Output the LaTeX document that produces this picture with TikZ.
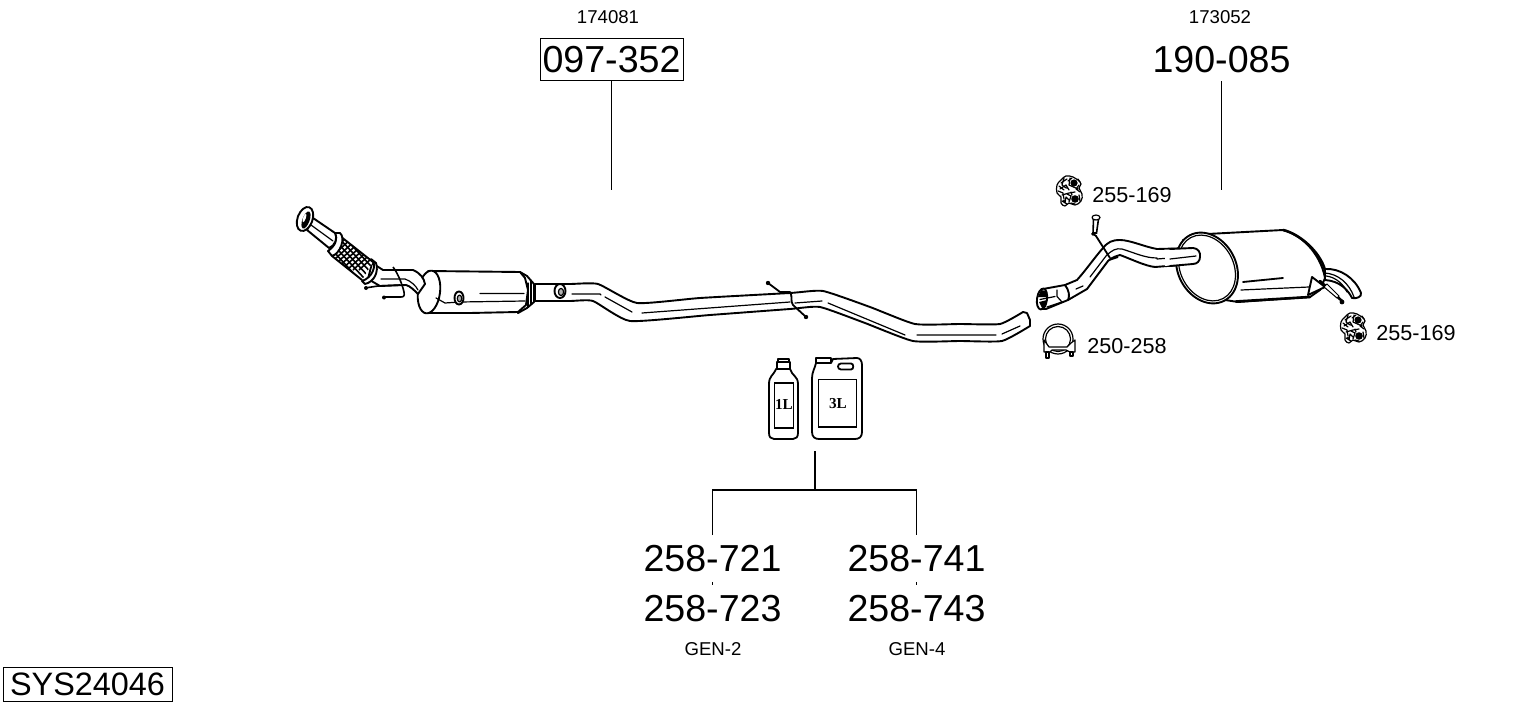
\documentclass[tikz,border=0pt]{standalone}
\usepackage{fontspec}
\setmainfont{Liberation Sans}
\newfontfamily\jugfont{Liberation Serif}
\tikzset{
  big/.style={font=\fontsize{18.8}{20}\selectfont,inner sep=0pt,minimum height=21pt},
  bigw/.style={big,minimum height=23pt},
  mid/.style={font=\fontsize{10.8}{12}\selectfont,inner sep=0pt,anchor=west},
  small/.style={font=\fontsize{9.3}{11}\selectfont,inner sep=0pt},
  framed/.style={draw,line width=.5pt},
  leader/.style={line width=.6pt},
  part/.style={line width=.95pt,line join=round,line cap=round,fill=white},
  thin part/.style={line width=.6pt,line join=round,line cap=round},
  hi/.style={line width=.6pt,line cap=round},
  jug/.style={line width=.9pt,line join=round,fill=white},
  jugtext/.style={font=\jugfont\bfseries\fontsize{7.6}{8}\selectfont,inner sep=0pt},
  dot/.style={fill=black}
}
\newcommand{\hangericon}[2]{%
\begin{scope}[shift={(#1,#2)}]
 \draw[thin part,fill=white] plot[smooth cycle,tension=.7] coordinates {(-3,-15)(4,-14)(9,-11)(12,-7)(10,-3)(13,3)(12,10)(6,14)(0,12)(-4,15)(-8,12)(-8,6)(-12,2)(-12,-6)(-8,-11)};
 \fill (5,-8) circle (3.6);
 \fill (6,8) circle (3.8);
 \draw[thin part] (-8,-8)--(-2,-12) (-9,-2)--(-3,-6)--(0,-1) (-7,4)--(0,2)--(6,1) (-4,12)--(-3,6)--(0,9) (1,-13)--(0,-6)--(9,-2) (-10,-5)--(-5,-1)
   (-5,-13)--(-7,-6)--(-3,-3) (-11,0)--(-6,2)--(-5,8) (-2,3)--(2,5)--(0,11) (-1,-10)--(3,-13) (10,-6)--(7,-2)--(11,1) (2,1)--(3,4) (9,-12)--(11,-9) (10,4)--(11,10) (2,12)--(6,13) (-7,10)--(-2,13);
 \fill (-5,10) circle (1.4);
 \fill (-2,-3) circle (1);
 \fill (-8,-3) circle (1);
\end{scope}}
\begin{document}
\begin{tikzpicture}[x=.5pt,y=-.5pt]
\useasboundingbox (0,0) rectangle (1530,711);

% labels
\node[small] (t174) at (608,17.5) {174081};
\node[small] (t173) at (1220,17.5) {173052};
\node[big,framed,minimum width=71.5pt] (n097) at (611.5,60) {097-352};
\node[big] (n190) at (1221.5,60) {190-085};
\node[mid] (h1) at (1092,195.5) {255-169};
\node[mid] (h2) at (1376,333.5) {255-169};
\node[mid] (cl) at (1087,346.5) {250-258};
\node[bigw] (n721) at (712.5,558.5) {258-721};
\node[bigw] (n723) at (712.5,608.5) {258-723};
\node[bigw] (n741) at (916.5,558.5) {258-741};
\node[bigw] (n743) at (916.5,608.5) {258-743};
\node[small] (g2) at (713,649.5) {GEN-2};
\node[small] (g4) at (917,649.5) {GEN-4};
\node[framed,font=\fontsize{16.2}{18}\selectfont,inner sep=0pt,minimum width=84.5pt,minimum height=17pt] (sys) at (87.5,684.5) {SYS24046};

% connectors
\coordinate (e097) at (611.5,190);
\coordinate (e190) at (1221.5,190);
\coordinate (jugs) at (815,451);
\coordinate (fork) at (815,490);
\coordinate (forkl) at (712.5,490);
\coordinate (forkr) at (916.5,490);
\draw[leader] (n097.south) -- (e097);
\draw[leader] (n190.south) -- (e190);
\draw[leader] (jugs) -- (fork);
\draw[leader] (n721.north) -- (forkl) -- (forkr) -- (n741.north);
\draw[leader] (n721.south) -- (n723.north);
\draw[leader] (n741.south) -- (n743.north);

% main middle pipe
\draw[part] plot[smooth,tension=.3] coordinates {(535,284)(570,284)(598,284)(637,303)(700,298)(790,293)(823,291)(870,307)(915,324)(960,324)(1000,324)(1023,312)}
  -- (1027,313) -- (1030,320) -- (1030,326)
  -- plot[smooth,tension=.3] coordinates {(1030,326)(1002,341)(960,341)(913,341)(865,323)(820,307)(790,309)(710,315)(630,321)(593,301)(570,301)(535,301)} -- cycle;
\draw[hi] (572,294)--(600,294)--(601,295) (605,297)--(632,312) (642,313)--(790,302) (795,303)--(822,301) (828,303)--(905,335) (917,335)--(996,335) (1002,334)--(1020,326);
% gasket
\draw[part] (560,291) ellipse [x radius=5.5,y radius=7];
\draw[thin part,fill=gray!60] (561,292) ellipse [x radius=2.6,y radius=3.6];
% bracket on middle pipe
\draw[line width=.9pt,line join=round] (768,283)--(780,292)--(790,292) .. controls (793,297) and (790,301) .. (793,305) -- (806,317);
\fill (768,283) circle (2.2) (806,317) circle (2.2);

% converter: neck
\draw[part] (520,272)--(527,276)--(534,284)--(534,302)--(527,308)--(518,313)--cycle;
\draw[thin part] (528,283)--(528,307) (531,281)--(531,304);
% converter: body
\draw[part] (428,271)--(520,272)--(525,278)--(528,290)--(526,305)--(518,312)--(470,313)--(425,313)--cycle;
\draw[part] (429,292) ellipse [x radius=11,y radius=21.5,rotate=-8];
\draw[hi] (480,293.5)--(524,293.5) (436,298)--(445,303)--(460,302)--(525,301);
\draw[part] (459,298) ellipse [x radius=4.5,y radius=6.5];
\draw[thin part,fill=gray!60] (459.5,298.5) ellipse [x radius=2.2,y radius=3.4];

% inlet bend
\draw[part] (372,263)--(383,270)--(413,270) .. controls (420,273) and (424,278) .. (425,284) -- (418,294) .. controls (414,290) and (410,286) .. (406,285) -- (380,286)--(368,279) -- cycle;
\draw[hi] (381,279)--(405,279) .. controls (411,281) and (416,286) .. (418,290);
% wires
\draw[line width=.8pt,line join=round] (365,288)--(378,286)--(400,285) (393,267) .. controls (397,272) and (402,283) .. (404,292) .. controls (405,297) and (403,297) .. (400,297) -- (383,297);
\fill (366,288) circle (2) (384,297.5) circle (2);

% flex section
\begin{scope}
\path[clip] (340,236)--(373,262)--(362,280)--(332,256)--cycle;
\fill[white] (320,220) rectangle (390,290);
\foreach \k in {-16,-10,...,44}{
 \draw[line width=.8pt] (325+\k,225)--(385+\k,290);
 \draw[line width=.8pt] (315+\k,270)--(375+\k,215);
}
\end{scope}
\draw[part,fill=none] (340,236)--(373,262) (332,256)--(362,280);
% collars
\draw[part] (340,233) .. controls (346,238) and (340,254) .. (332,256) -- (328,251) .. controls (335,246) and (338,240) .. (335,233) -- cycle;
\draw[part] (371,259) .. controls (378,265) and (372,278) .. (362,281) -- (365,284) .. controls (374,282) and (379,272) .. (376,263) -- cycle;
% inlet tube
\draw[part] (313,218)--(335,233) .. controls (338,238) and (335,246) .. (329,248) -- (307,230) -- cycle;
\draw[hi] (311,225)--(333,241);
% flange
\draw[part] (305,219) ellipse [x radius=7.5,y radius=12.5,rotate=-20];
\fill (306,220) ellipse [x radius=3.6,y radius=9,rotate=-20];
\fill[white] (304.5,218) ellipse [x radius=1.3,y radius=4.5,rotate=-20];

% rear pipe
\draw[part] (1065,285)--(1077,280) .. controls (1086,270) and (1095,257) .. (1103,248) .. controls (1108,242) and (1112,240) .. (1120,240) .. controls (1130,240) and (1145,247) .. (1157,249) -- (1193,248) .. controls (1198,248) and (1201,253) .. (1200,257) .. controls (1200,261) and (1197,264) .. (1193,264) -- (1155,267) .. controls (1145,266) and (1131,259) .. (1120,255) .. controls (1117,256) and (1112,257) .. (1108,261) -- (1087,289) -- (1068,300) -- cycle;
\draw[hi] (1076,289)--(1083,286) (1090,277)--(1106,256) .. controls (1112,250) and (1116,248) .. (1122,249) .. controls (1135,253) and (1145,258) .. (1157,258) (1157,259)--(1196,256);
% clamp end of rear pipe
\draw[part] (1043,289) -- (1065,285) .. controls (1069,290) and (1070,296) .. (1068,300) -- (1046,309) -- (1042,309) -- cycle;
\draw[part] (1042,299) ellipse [x radius=5,y radius=10.5,rotate=-8];
\fill (1041,290) -- (1046,291) -- (1047,297) -- (1038,297) -- cycle;
\fill (1039,302) -- (1047,300) -- (1046,307) -- (1042,308) -- cycle;
\draw[thin part] (1040,299.5)--(1055,296.5) (1047,307)--(1062,302) (1057,290)--(1057,296.5)--(1062,302);
\draw[line width=.9pt] (1109,260)--(1118,257);
% bolt and wire
\draw[line width=.8pt,fill=white] (1093.5,219)--(1093,233)--(1096.5,233)--(1098.5,219)--cycle;
\draw[thin part,fill=white] (1096,217.5) ellipse [x radius=4,y radius=2.5];
\draw[line width=.9pt,line join=round] (1092,233) -- (1096,236) -- (1110,258);
\fill (1093,234) circle (1.9);

% muffler
\draw[part] (1183,240) -- (1207,234) -- (1283,230) .. controls (1300,234) and (1320,252) .. (1325,278) -- (1320,290) -- (1310,297) -- (1238,302) -- (1212,298) -- cycle;
\draw[line width=1.3pt,line cap=round] (1283,230) .. controls (1300,234) and (1320,252) .. (1325,270);
\draw[line width=1.3pt,line cap=round] (1236,301.5) -- (1310,297);
\draw[line width=.9pt,line cap=round] (1243,282) -- (1283,278);
\draw[thin part] (1241,290)--(1309,287);
% tail pipe
\draw[part] (1325,269) .. controls (1340,268) and (1355,278) .. (1361,293) .. controls (1362,297) and (1356,299) .. (1352,298) .. controls (1348,290) and (1340,281) .. (1325,280) -- cycle;
\draw[hi] (1325,273) .. controls (1338,274) and (1349,283) .. (1354,297);
\draw[hi] (1326,276) .. controls (1336,277) and (1344,285) .. (1347,292);
% muffler face
\draw[part] (1207,268) ellipse [x radius=29,y radius=37,rotate=28];
\draw[thin part,fill=white] (1207,268) ellipse [x radius=26.5,y radius=34.5,rotate=28];
% pipe into muffler
\draw[part,draw=none] (1165,250) -- (1192,249) -- (1192,263) -- (1165,266) -- cycle;
\draw[part,fill=white] (1170,249) -- (1193,248) .. controls (1198,248) and (1201,253) .. (1200,257) .. controls (1200,261) and (1197,264) .. (1193,264) -- (1170,266);
\draw[hi] (1170,259)--(1196,256);
% rear bracket
\draw[part] (1312,277) -- (1325,287) -- (1308,295) -- cycle;
\draw[line width=1.3pt,line cap=round] (1320,281) -- (1342,301);
\draw[line width=.5pt,fill=white] (1327,284) -- (1339,296) -- (1337,298) -- (1324,287) -- cycle;
\fill (1342,302) circle (2.4);

% clamp 250-258
\draw[thin part] (1058,339) circle [radius=15];
\draw[thin part] (1058,339) circle [radius=12.5];
\draw[thin part,fill=white] (1044,340) -- (1044,352) -- (1050,352) -- (1052,350) -- (1066,350) -- (1070,352) -- (1075,352) -- (1075,340) -- (1071,343) -- (1067,347) -- (1049,347) -- cycle;
\draw[thin part,fill=white] (1046,352) rectangle (1049,358) (1070,352) rectangle (1073,356);

% hangers
\hangericon{1069}{191}
\hangericon{1353}{328}

% 1L jug
\draw[jug] (777,362) rectangle (790,369);
\draw[jug] (778,359) rectangle (789,362);
\draw[jug] (776,369) .. controls (773,376) and (769,376) .. (769,384) -- (769,433) .. controls (769,437) and (771,439) .. (774,439) -- (793,439) .. controls (796,439) and (798,437) .. (798,433) -- (798,384) .. controls (798,376) and (792,376) .. (790,369) -- cycle;
\draw[line width=.9pt,fill=white] (774.5,383) rectangle (793.5,428);
\node[jugtext] (l1) at (784,404) {1L};

% 3L jug
\draw[jug] (816,358) rectangle (831,363);
\draw[jug] (816,363) -- (831,363) -- (833,359) -- (857,358) .. controls (860,358) and (862,361) .. (862,365) -- (862,432) .. controls (862,437) and (859,439) .. (855,439) -- (819,439) .. controls (815,439) and (812,437) .. (812,432) -- (812,378) .. controls (812,372) and (815,368) .. (816,363) -- cycle;
\draw[line width=.9pt] (841,363.5) -- (851,363.5) .. controls (854,363.5) and (854,369.5) .. (851,369.5) -- (841,369.5) .. controls (837,369.5) and (837,363.5) .. (841,363.5) -- cycle;
\draw[line width=.9pt,fill=white] (818.5,379.5) rectangle (856.5,427);
\node[jugtext] (l3) at (838,404) {3L};
\end{tikzpicture}
\end{document}
